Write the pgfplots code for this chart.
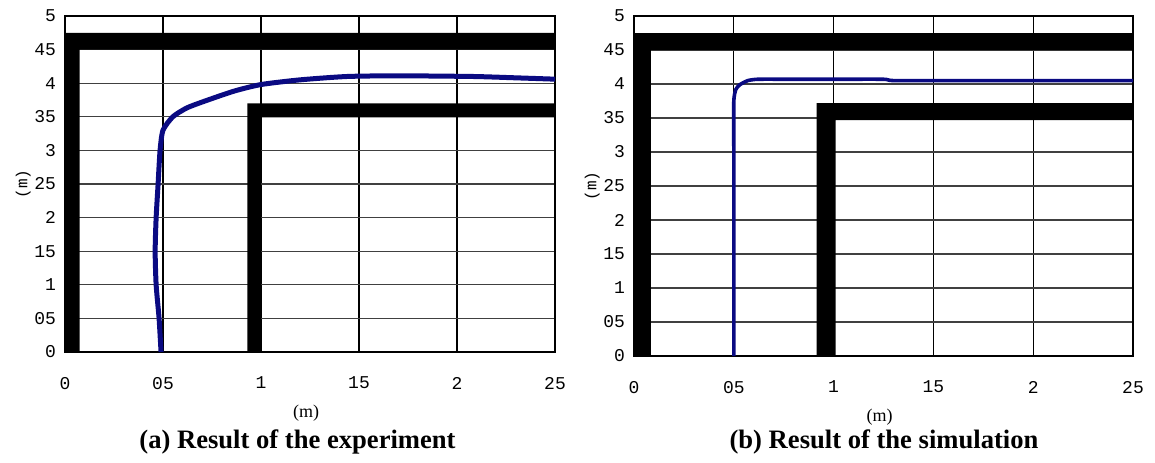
\documentclass[border=0pt]{standalone}
\usepackage{fontspec}
\setmainfont{Liberation Serif}
\newfontfamily\tickfont{Liberation Mono}
\usepackage{pgfplots}
\pgfplotsset{compat=1.18}
\definecolor{trace}{RGB}{10,10,130}

\pgfplotsset{
  room/.style={
    scale only axis,
    xmin=0, xmax=2.5, ymin=0, ymax=5,
    xtick={0,0.5,1,1.5,2,2.5}, xticklabels={0,05,1,15,2,25},
    ytick={0,0.5,...,5}, yticklabels={0,05,1,15,2,25,3,35,4,45,5},
    tick style={draw=none},
    /pgf/number format/assume math mode=true,
    ticklabel style={font=\tickfont\fontsize{9}{10}\selectfont},
    xticklabel style={yshift=-9pt},
    yticklabel style={xshift=-1pt},
    axis line style={black, line width=0.6pt},
    grid=major,
    x grid style={black, line width=0.6pt},
    y grid style={black!75, line width=0.6pt},
    xlabel={(m)}, ylabel={(m)},
    xlabel style={font=\fontsize{9}{10}\selectfont, yshift=-1pt, xshift=-2pt},
    ylabel style={font=\tickfont\fontsize{8}{9}\selectfont, yshift=-5pt},
  },
}

\begin{document}
\begin{tikzpicture}
\useasboundingbox (0,0) rectangle (577.5pt,231pt);

% (a) experiment
\begin{axis}[room, at={(32.5pt,55pt)}, anchor=south west,
  width=245pt, height=168pt]
\addplot[fill=black, draw=none] coordinates {
  (0,0) (0.075,0) (0.075,4.5) (2.5,4.5) (2.5,4.75) (0,4.75)} -- cycle;
\addplot[fill=black, draw=none] coordinates {
  (0.93,0) (1.0,0) (1.0,3.49) (2.5,3.49) (2.5,3.7) (0.93,3.7)} -- cycle;
\addplot[trace, line width=2.5pt, smooth, tension=0.4] coordinates {
 (0.49,0) (0.48,0.5) (0.465,1.0) (0.46,1.5) (0.465,2.0) (0.475,2.5)
 (0.485,3.0) (0.50,3.3) (0.55,3.5) (0.62,3.63) (0.70,3.72) (0.86,3.88)
 (1.0,3.98) (1.2,4.05) (1.44,4.1) (1.7,4.11) (2.08,4.1) (2.3,4.08) (2.5,4.06)};
\end{axis}
\node[font=\bfseries\fontsize{13.3}{15}\selectfont] at (148.75pt,10pt)
  {(a) Result of the experiment};

% (b) simulation
\begin{axis}[room, at={(317pt,53pt)}, anchor=south west,
  width=249.5pt, height=170pt]
\addplot[fill=black, draw=none] coordinates {
  (0,0) (0.085,0) (0.085,4.5) (2.5,4.5) (2.5,4.75) (0,4.75)} -- cycle;
\addplot[fill=black, draw=none] coordinates {
  (0.915,0) (1.01,0) (1.01,3.47) (2.5,3.47) (2.5,3.72) (0.915,3.72)} -- cycle;
\addplot[trace, line width=1.8pt, smooth, tension=0.3] coordinates {
 (0.5,0) (0.5,1.0) (0.5,2.0) (0.5,3.0) (0.5,3.75) (0.51,3.92)
 (0.53,3.99) (0.57,4.05) (0.62,4.07) (0.8,4.07) (1.0,4.07) (1.25,4.07)
 (1.3,4.05) (1.6,4.05) (2.0,4.05) (2.5,4.05)};
\end{axis}
\node[font=\bfseries\fontsize{13.3}{15}\selectfont] at (442pt,10pt)
  {(b) Result of the simulation};
\end{tikzpicture}
\end{document}
